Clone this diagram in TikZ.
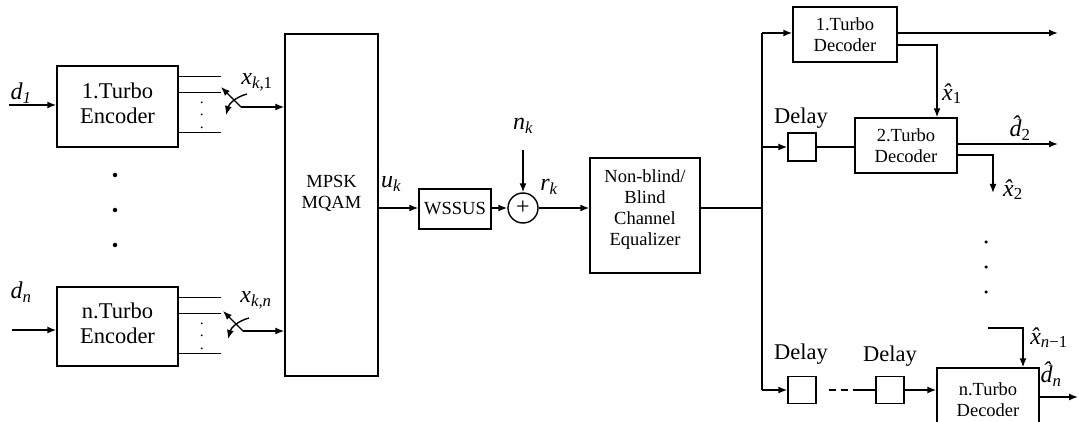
\documentclass[tikz,border=0pt]{standalone}
\usepackage{fontspec}
\setmainfont{Liberation Serif}
\usetikzlibrary{arrows.meta,calc}
\begin{document}
\begin{tikzpicture}[x=1pt,y=-1pt,line width=1.4pt,
  box/.style={draw,rectangle,inner sep=0pt,align=center},
  arr/.style={-{Latex[length=9pt,width=7pt]}},
  encfont/.style={font=\fontsize{22.5}{25}\selectfont},
  medfont/.style={font=\fontsize{18.5}{21}\selectfont},
  lab/.style={font=\fontsize{24}{26}\selectfont\itshape,inner sep=0pt},
  dlab/.style={font=\fontsize{22.5}{24}\selectfont,inner sep=0pt},
  bigdot/.style={circle,fill,inner sep=0pt,minimum size=4.5pt},
  tinydot/.style={circle,fill,inner sep=0pt,minimum size=2pt}]
\useasboundingbox (0,0) rectangle (1079,422);
\clip (0,0) rectangle (1079,422);

% encoders
\node[box,minimum width=121pt,minimum height=81pt] (enc1) at (117.5,106.5) {};
\node[encfont,align=center,inner sep=0pt] (enc1t) at (117.5,103) {1.Turbo\\Encoder};
\node[box,minimum width=121pt,minimum height=79pt] (encn) at (117.5,326.5) {};
\node[encfont,align=center,inner sep=0pt] (encnt) at (117.5,323) {n.Turbo\\Encoder};
\coordinate (in1) at (9,105);
\coordinate (inn) at (12,330);
\draw[arr] (in1) -- (enc1.west |- in1);
\draw[arr] (inn) -- (encn.west |- inn);
\node[lab] (ld1) at (21,93) {d\textsubscript{\textit{1}}};
\node[lab] (ldn) at (21,292) {d\textsubscript{\textit{n}}};

\foreach \e in {enc1,encn}{
  \foreach \o in {11,27,67}{
    \draw ($(\e.north east)+(0,\o)$) -- ($(\e.north east)+(42,\o)$);
  }
  \foreach \o in {37,49,62}{
    \node[tinydot] at ($(\e.north east)+(23,\o)$) {};
  }
}
\foreach \yy in {175,210,245}{\node[bigdot] at (115,\yy) {};}

% modulator
\node[box,minimum width=93pt,minimum height=342pt] (mod) at (331.5,205) {};
\node[medfont,align=center,inner sep=0pt] (modt) at (331.5,193) {MPSK\\MQAM};

% switches
\coordinate (sw1) at (241,107);
\coordinate (swn) at (243,331);
\foreach \s in {sw1,swn}{
  \draw[arr] (\s) -- ($(\s)+(-20,-20)$);
  \draw[arr] ($(\s)+(6,-13)$) to[bend right=30] ($(\s)+(-15,8)$);
  \draw[arr] (\s) -- (mod.west |- \s);
}
\node[lab] (lx1) at (257,82) {x\textsubscript{\textit{k},\upshape 1}};
\node[lab] (lxn) at (256,300) {x\textsubscript{\textit{k},\textit{n}}};

% channel
\node[box,medfont,minimum width=72pt,minimum height=40pt] (wss) at (455,209) {WSSUS};
\node[circle,draw,minimum size=30pt,inner sep=0pt,font=\fontsize{24}{24}\selectfont] (sum) at (523,208) {+};
\node[box,minimum width=110pt,minimum height=115pt] (eq) at (645,215.5) {};
\node[medfont,align=center,inner sep=0pt] (eqt) at (645,210) {Non-blind/\\Blind\\Channel\\Equalizer};
\draw[arr] (mod.east |- sum.west) -- (wss.west |- sum.west);
\draw[arr] (wss.east |- sum.west) -- (sum.west);
\coordinate (nk) at (523,150);
\draw[arr] (nk) -- (sum.north);
\draw[arr] (sum.east) -- (eq.west |- sum.east);
\node[lab] (luk) at (391,184) {u\textsubscript{\textit{k}}};
\node[lab] (lnk) at (523,126) {n\textsubscript{\textit{k}}};
\node[lab] (lrk) at (549,187) {r\textsubscript{\textit{k}}};

% bus
\coordinate (bus) at (762,208);
\coordinate (b1) at (762,33);
\coordinate (b2) at (762,147);
\coordinate (b3) at (762,390);
\draw (eq.east |- bus) -- (bus);
\draw (b1) -- (b3);

% decoders
\node[box,medfont,minimum width=104pt,minimum height=55pt] (dec1) at (845,34.5) {1.Turbo\\Decoder};
\node[box,minimum width=28pt,minimum height=28pt] (dly1) at (802,147) {};
\node[box,medfont,minimum width=102pt,minimum height=55pt] (dec2) at (906,145.5) {2.Turbo\\Decoder};
\node[box,minimum width=28pt,minimum height=27pt] (dly2) at (802,390) {};
\node[box,minimum width=28pt,minimum height=27pt] (dly3) at (890,390) {};
\node[box,minimum width=102pt,minimum height=55pt] (decn) at (988,395.5) {};
\node[medfont,align=center,inner sep=0pt] (decnt) at (988,400) {n.Turbo\\Decoder};
\node[dlab] (ldl1) at (801,118) {Delay};
\node[dlab] (ldl2) at (801,354) {Delay};
\node[dlab] (ldl3) at (890,356) {Delay};

\draw[arr] (b1) -- (dec1.west |- b1);
\draw[arr] (b2) -- (dly1.west);
\draw (dly1.east) -- (dec2.west |- dly1.east);
\draw[arr] (b3) -- (dly2.west);
\draw[dash pattern=on 7pt off 5pt] ($(dly2.east)+(12,0)$) -- ($(dly3.west)+(-21,0)$);
\draw ($(dly3.west)+(-21,0)$) -- (dly3.west);
\draw[arr] (dly3.east) -- (decn.west |- dly3.east);

% outputs
\coordinate (o1) at (1058,33);
\coordinate (o2) at (1058,144);
\coordinate (on) at (1078,397);
\coordinate (c1) at (937,45);
\coordinate (x2c) at (993,155);
\coordinate (x2e) at (993,193);
\coordinate (xns) at (988,328);
\coordinate (xnc) at (1023,328);
\draw[arr] (dec1.east |- o1) -- (o1);
\draw[arr] (dec1.east |- c1) -- (c1) -- (dec2.north -| c1);
\draw[arr] (dec2.east |- o2) -- (o2);
\draw[arr] (dec2.east |- x2c) -- (x2c) -- (x2e);
\draw[arr] (xns) -- (xnc) -- (decn.north -| xnc);
\draw[arr] (decn.east |- on) -- (on);
\foreach \yy in {242,267,292}{\node[bigdot,minimum size=3.5pt] at (986,\yy) {};}

\node[lab] (lx1h) at (952,94) {\^{x}\textsubscript{\upshape 1}};
\node[lab] (ld2h) at (1020,128) {\^{d}\textsubscript{\upshape 2}};
\node[lab] (lx2h) at (1013,190) {\^{x}\textsubscript{\upshape 2}};
\node[lab] (lxnh) at (1049,338) {\^{x}\textsubscript{n{\upshape −1}}};
\node[lab] (ldnh) at (1051,374) {\^{d}\textsubscript{n}};
\end{tikzpicture}
\end{document}
